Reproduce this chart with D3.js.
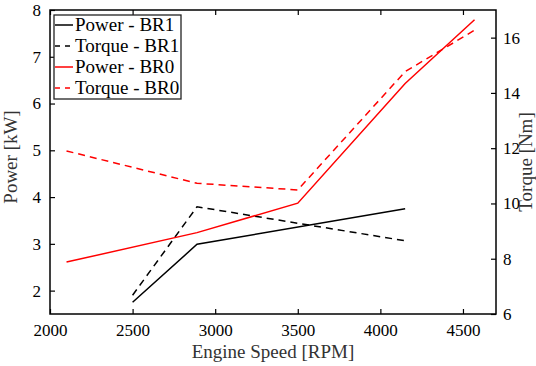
<!DOCTYPE html>
<html>
<head>
<meta charset="utf-8">
<script src="https://cdn.jsdelivr.net/npm/d3@7"></script>
<style>
  body { margin: 0; background: #fff; }
</style>
</head>
<body>
<div id="chart"></div>
<script>
// data
var rpmBR0 = [2100, 2890, 3500, 4150, 4570],
    powerBR0 = [2.61, 3.24, 3.87, 6.43, 7.79],
    torqueBR0 = [11.9, 10.73, 10.49, 14.77, 16.27];
var rpmBR1 = [2500, 2890, 4150],
    powerBR1 = [1.75, 2.99, 3.75],
    torqueBR1 = [6.68, 9.88, 8.65];
var xTicks = [2000, 2500, 3000, 3500, 4000, 4500],
    leftTicks = [2, 3, 4, 5, 6, 7, 8],
    rightTicks = [6, 8, 10, 12, 14, 16];
var legendNames = ["Power - BR1", "Torque - BR1", "Power - BR0", "Torque - BR0"];

var W = 536, H = 366,
    margin = { top: 10, right: 40, bottom: 52, left: 50 },
    width = W - margin.left - margin.right,
    height = H - margin.top - margin.bottom,
    tickLen = 5,
    serif = "'Liberation Serif', 'DejaVu Serif', serif";

var svg = d3.select("#chart").append("svg")
    .attr("width", W)
    .attr("height", H);

var g = svg.append("g")
    .attr("transform", "translate(" + margin.left + "," + margin.top + ")");

var x = d3.scaleLinear().domain([2000, 4700]).range([0, width]),
    yL = d3.scaleLinear().domain([1.5, 8]).range([height, 0]),
    yR = d3.scaleLinear().domain([6, 17]).range([height, 0]);

// axes, matlab style: inward ticks
function styleAxis(sel) {
  sel.attr("font-family", null);
  sel.select(".domain").remove();
  sel.selectAll(".tick line").attr("stroke", "#000").attr("stroke-width", 1.2);
  sel.selectAll(".tick text").attr("fill", "#000")
    .style("font-family", serif).style("font-size", "17px");
}

g.append("g").attr("transform", "translate(0," + height + ")")
  .call(d3.axisBottom(x).tickValues(xTicks).tickFormat(d3.format("d"))
    .tickSizeInner(-tickLen).tickSizeOuter(0).tickPadding(10))
  .call(styleAxis);
g.append("g")
  .call(d3.axisTop(x).tickValues(xTicks).tickSizeInner(-tickLen).tickSizeOuter(0).tickFormat(""))
  .call(styleAxis);
g.append("g")
  .call(d3.axisLeft(yL).tickValues(leftTicks).tickFormat(d3.format("d"))
    .tickSizeInner(-tickLen).tickSizeOuter(0).tickPadding(9))
  .call(styleAxis);
g.append("g").attr("transform", "translate(" + width + ",0)")
  .call(d3.axisRight(yR).tickValues(rightTicks).tickFormat(d3.format("d"))
    .tickSizeInner(-tickLen).tickSizeOuter(0).tickPadding(7))
  .call(styleAxis);

// frame
g.append("rect")
  .attr("width", width).attr("height", height)
  .attr("fill", "none").attr("stroke", "#000").attr("stroke-width", 1.5);

// series
var series = [
  { xs: rpmBR1, ys: powerBR1, scale: yL, color: "#000", dash: null },
  { xs: rpmBR1, ys: torqueBR1, scale: yR, color: "#000", dash: "7,5" },
  { xs: rpmBR0, ys: powerBR0, scale: yL, color: "#ff0000", dash: null },
  { xs: rpmBR0, ys: torqueBR0, scale: yR, color: "#ff0000", dash: "7,5" }
];

series.forEach(function(s) {
  var line = d3.line()
      .x(function(d, i) { return x(s.xs[i]); })
      .y(function(d) { return s.scale(d); });
  g.append("path")
    .datum(s.ys)
    .attr("d", line)
    .attr("fill", "none")
    .attr("stroke", s.color)
    .attr("stroke-width", 1.5)
    .attr("stroke-dasharray", s.dash);
});

// axis titles
g.append("text").text("Engine Speed [RPM]")
  .attr("x", width / 2).attr("y", height + 44)
  .attr("text-anchor", "middle").attr("fill", "#333")
  .style("font-family", serif).style("font-size", "19px");
g.append("text").text("Power [kW]")
  .attr("transform", "translate(-33," + (height / 2 - 5) + ") rotate(-90)")
  .attr("text-anchor", "middle").attr("fill", "#333")
  .style("font-family", serif).style("font-size", "19px");
g.append("text").text("Torque [Nm]")
  .attr("transform", "translate(" + (width + 36) + "," + height / 2 + ") rotate(-90)")
  .attr("text-anchor", "middle").attr("fill", "#333")
  .style("font-family", serif).style("font-size", "19px");

// legend
var lg = g.append("g").attr("transform", "translate(4,5)");
lg.append("rect")
  .attr("width", 127).attr("height", 84)
  .attr("fill", "#fff").attr("stroke", "#222").attr("stroke-width", 1.3);
var items = lg.selectAll(".item").data(legendNames).enter().append("g")
  .attr("class", "item")
  .attr("transform", function(d, i) { return "translate(0," + (10 + i * 21) + ")"; });
items.append("line")
  .attr("x1", 1).attr("x2", 19).attr("y1", 0).attr("y2", 0)
  .attr("stroke", function(d, i) { return series[i].color; })
  .attr("stroke-width", 1.5)
  .attr("stroke-dasharray", function(d, i) { return series[i].dash ? "5,5" : null; });
items.append("text").text(function(d) { return d; })
  .attr("x", 21).attr("y", 6)
  .style("font-family", serif).style("font-size", "19px");
</script>
</body>
</html>
